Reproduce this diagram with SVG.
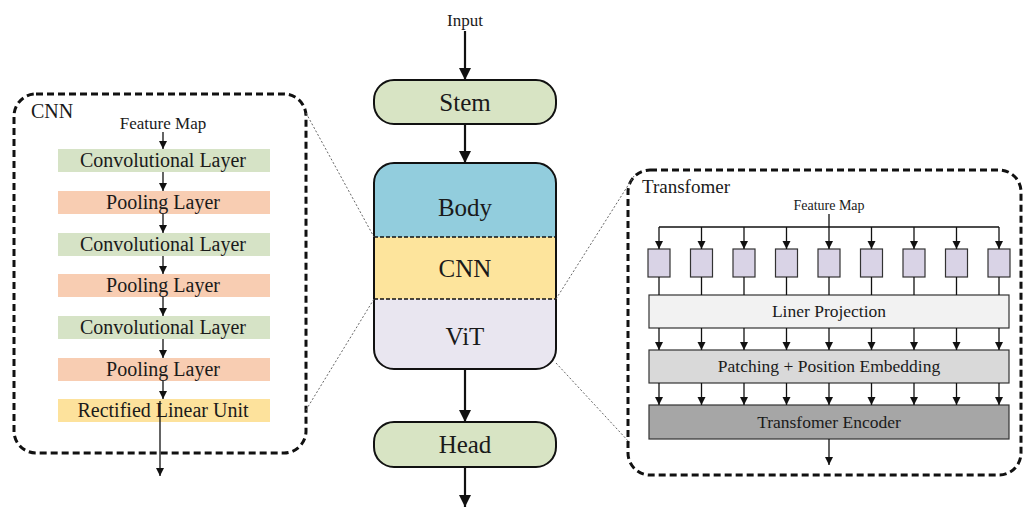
<svg xmlns="http://www.w3.org/2000/svg" width="1024" height="507" viewBox="0 0 1024 507">
<defs>
<marker id="ah" viewBox="0 0 10 10" refX="10" refY="5" markerUnits="userSpaceOnUse" markerWidth="8" markerHeight="9" orient="auto"><path d="M0,0 L10,5 L0,10 z" fill="#111"/></marker>
<marker id="ahb" viewBox="0 0 10 10" refX="10" refY="5" markerUnits="userSpaceOnUse" markerWidth="13" markerHeight="12" orient="auto"><path d="M0,0 L10,5 L0,10 z" fill="#111"/></marker>
<clipPath id="bodyclip"><rect x="374" y="163" width="182" height="206" rx="20"/></clipPath>
</defs>
<style>
text{font-family:"Liberation Serif","Times New Roman",serif;fill:#1a1a1a}
.big{font-size:25px;text-anchor:middle}
.lay{font-size:20px;text-anchor:middle}
.mid{font-size:17.5px;text-anchor:middle}
.panel{fill:none;stroke:#111;stroke-width:3;stroke-dasharray:7 4}
.lead{stroke:#666;stroke-width:1;stroke-dasharray:2 2;fill:none}
.thin{stroke:#111;stroke-width:1.3;fill:none}
.thick{stroke:#111;stroke-width:2.2;fill:none}
.node{stroke:#111;stroke-width:2}
.tbox{stroke:#333;stroke-width:1.2}
</style>
<rect width="1024" height="507" fill="#fff"/>

<g id="cnn-panel">
<rect class="panel" x="14" y="94" width="292" height="359" rx="22"/>
<text x="31" y="118" font-size="20">CNN</text>
<text x="163" y="129" font-size="17" text-anchor="middle">Feature Map</text>
</g>
<g id="conv1"><rect x="58" y="149" width="212" height="23" fill="#d6e3c6"/><text class="lay" x="163" y="167">Convolutional Layer</text></g>
<g id="pool1"><rect x="58" y="191" width="212" height="23" fill="#f8cdb2"/><text class="lay" x="163" y="209">Pooling Layer</text></g>
<g id="conv2"><rect x="58" y="233" width="212" height="23" fill="#d6e3c6"/><text class="lay" x="163" y="251">Convolutional Layer</text></g>
<g id="pool2"><rect x="58" y="274" width="212" height="23" fill="#f8cdb2"/><text class="lay" x="163" y="292">Pooling Layer</text></g>
<g id="conv3"><rect x="58" y="316" width="212" height="23" fill="#d6e3c6"/><text class="lay" x="163" y="334">Convolutional Layer</text></g>
<g id="pool3"><rect x="58" y="358" width="212" height="23" fill="#f8cdb2"/><text class="lay" x="163" y="376">Pooling Layer</text></g>
<g id="relu"><rect x="58" y="399" width="212" height="23" fill="#fde29c"/><text class="lay" x="163" y="417">Rectified Linear Unit</text></g>

<g id="input"><text x="465" y="26" font-size="17" text-anchor="middle">Input</text></g>
<g id="stem"><rect class="node" x="374" y="80" width="182" height="44" rx="20" fill="#d8e4c4"/><text class="big" x="465" y="111">Stem</text></g>
<g id="body">
<g clip-path="url(#bodyclip)">
<rect x="374" y="163" width="182" height="74" fill="#92cddd"/>
<rect x="374" y="237" width="182" height="62" fill="#fde49c"/>
<rect x="374" y="299" width="182" height="70" fill="#e9e6f0"/>
</g>
<line x1="374" y1="237" x2="556" y2="237" stroke="#111" stroke-width="1.5" stroke-dasharray="4 2"/>
<line x1="374" y1="299" x2="556" y2="299" stroke="#111" stroke-width="1.5" stroke-dasharray="4 2"/>
<rect class="node" x="374" y="163" width="182" height="206" rx="20" fill="none"/>
<text class="big" x="465" y="216">Body</text>
<text class="big" x="465" y="277">CNN</text>
<text class="big" x="465" y="345">ViT</text>
</g>
<g id="head"><rect class="node" x="374" y="422" width="182" height="45" rx="20" fill="#d8e4c4"/><text class="big" x="465" y="453">Head</text></g>

<g id="transformer-panel">
<rect class="panel" x="628" y="170" width="393" height="305" rx="22"/>
<text x="642" y="193" font-size="19">Transfomer</text>
<text x="829" y="210" font-size="14" text-anchor="middle">Feature Map</text>
</g>
<g id="patches" fill="#d9d3e6">
<rect class="tbox" x="648" y="249" width="22" height="28"/>
<rect class="tbox" x="690.5" y="249" width="22" height="28"/>
<rect class="tbox" x="733" y="249" width="22" height="28"/>
<rect class="tbox" x="775.5" y="249" width="22" height="28"/>
<rect class="tbox" x="818" y="249" width="22" height="28"/>
<rect class="tbox" x="860.5" y="249" width="22" height="28"/>
<rect class="tbox" x="903" y="249" width="22" height="28"/>
<rect class="tbox" x="945.5" y="249" width="22" height="28"/>
<rect class="tbox" x="988" y="249" width="22" height="28"/>
</g>
<g id="liner-projection"><rect class="tbox" x="649" y="295" width="360" height="33" fill="#f2f2f2"/><text class="mid" x="829" y="317">Liner Projection</text></g>
<g id="patching"><rect class="tbox" x="649" y="350" width="360" height="33" fill="#d9d9d9"/><text class="mid" x="829" y="372">Patching + Position Embedding</text></g>
<g id="encoder"><rect class="tbox" x="649" y="405" width="360" height="34" fill="#a6a6a6"/><text class="mid" x="829" y="428">Transfomer Encoder</text></g>

<g id="connectors">
<line class="lead" x1="306" y1="113" x2="374" y2="237"/>
<line class="lead" x1="306" y1="410" x2="374" y2="299"/>
<line class="lead" x1="556" y1="299" x2="634" y2="176"/>
<line class="lead" x1="556" y1="363" x2="630" y2="443"/>

<line class="thick" x1="465" y1="31" x2="465" y2="80" marker-end="url(#ahb)"/>
<line class="thick" x1="465" y1="124" x2="465" y2="163" marker-end="url(#ahb)"/>
<line class="thick" x1="465" y1="369" x2="465" y2="422" marker-end="url(#ahb)"/>
<line class="thick" x1="465" y1="467" x2="465" y2="507" marker-end="url(#ahb)"/>

<line class="thin" x1="163" y1="132" x2="163" y2="149" marker-end="url(#ah)"/>
<line class="thin" x1="163" y1="172" x2="163" y2="191" marker-end="url(#ah)"/>
<line class="thin" x1="163" y1="214" x2="163" y2="233" marker-end="url(#ah)"/>
<line class="thin" x1="163" y1="256" x2="163" y2="274" marker-end="url(#ah)"/>
<line class="thin" x1="163" y1="297" x2="163" y2="316" marker-end="url(#ah)"/>
<line class="thin" x1="163" y1="339" x2="163" y2="358" marker-end="url(#ah)"/>
<line class="thin" x1="163" y1="381" x2="163" y2="399" marker-end="url(#ah)"/>
<line class="thin" x1="160" y1="401" x2="160" y2="476" marker-end="url(#ah)"/>

<line class="thin" x1="829" y1="214" x2="829" y2="227"/>
<line class="thin" x1="659" y1="227" x2="999" y2="227"/>
<g class="thin">
<line x1="659" y1="227" x2="659" y2="249" marker-end="url(#ah)"/>
<line x1="701.5" y1="227" x2="701.5" y2="249" marker-end="url(#ah)"/>
<line x1="744" y1="227" x2="744" y2="249" marker-end="url(#ah)"/>
<line x1="786.5" y1="227" x2="786.5" y2="249" marker-end="url(#ah)"/>
<line x1="829" y1="227" x2="829" y2="249" marker-end="url(#ah)"/>
<line x1="871.5" y1="227" x2="871.5" y2="249" marker-end="url(#ah)"/>
<line x1="914" y1="227" x2="914" y2="249" marker-end="url(#ah)"/>
<line x1="956.5" y1="227" x2="956.5" y2="249" marker-end="url(#ah)"/>
<line x1="999" y1="227" x2="999" y2="249" marker-end="url(#ah)"/>

<line x1="659" y1="277" x2="659" y2="295"/>
<line x1="701.5" y1="277" x2="701.5" y2="295"/>
<line x1="744" y1="277" x2="744" y2="295"/>
<line x1="786.5" y1="277" x2="786.5" y2="295"/>
<line x1="829" y1="277" x2="829" y2="295"/>
<line x1="871.5" y1="277" x2="871.5" y2="295"/>
<line x1="914" y1="277" x2="914" y2="295"/>
<line x1="956.5" y1="277" x2="956.5" y2="295"/>
<line x1="999" y1="277" x2="999" y2="295"/>

<line x1="659" y1="328" x2="659" y2="350" marker-end="url(#ah)"/>
<line x1="701.5" y1="328" x2="701.5" y2="350" marker-end="url(#ah)"/>
<line x1="744" y1="328" x2="744" y2="350" marker-end="url(#ah)"/>
<line x1="786.5" y1="328" x2="786.5" y2="350" marker-end="url(#ah)"/>
<line x1="829" y1="328" x2="829" y2="350" marker-end="url(#ah)"/>
<line x1="871.5" y1="328" x2="871.5" y2="350" marker-end="url(#ah)"/>
<line x1="914" y1="328" x2="914" y2="350" marker-end="url(#ah)"/>
<line x1="956.5" y1="328" x2="956.5" y2="350" marker-end="url(#ah)"/>
<line x1="999" y1="328" x2="999" y2="350" marker-end="url(#ah)"/>

<line x1="659" y1="383" x2="659" y2="405" marker-end="url(#ah)"/>
<line x1="701.5" y1="383" x2="701.5" y2="405" marker-end="url(#ah)"/>
<line x1="744" y1="383" x2="744" y2="405" marker-end="url(#ah)"/>
<line x1="786.5" y1="383" x2="786.5" y2="405" marker-end="url(#ah)"/>
<line x1="829" y1="383" x2="829" y2="405" marker-end="url(#ah)"/>
<line x1="871.5" y1="383" x2="871.5" y2="405" marker-end="url(#ah)"/>
<line x1="914" y1="383" x2="914" y2="405" marker-end="url(#ah)"/>
<line x1="956.5" y1="383" x2="956.5" y2="405" marker-end="url(#ah)"/>
<line x1="999" y1="383" x2="999" y2="405" marker-end="url(#ah)"/>

<line x1="829" y1="439" x2="829" y2="465" marker-end="url(#ah)"/>
</g>
</g>
</svg>
